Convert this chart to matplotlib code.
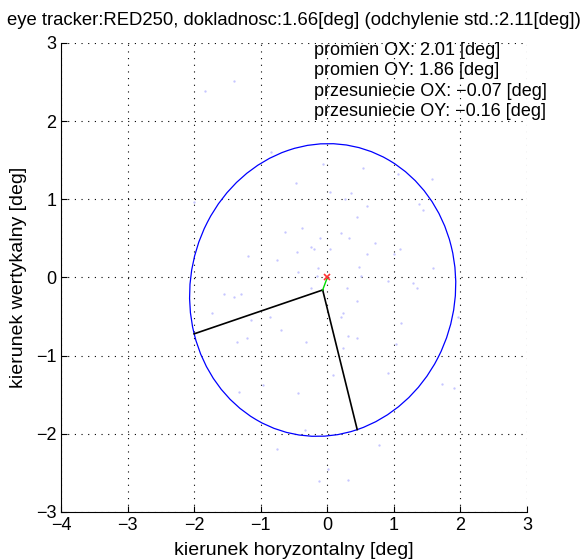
import numpy as np
import matplotlib
matplotlib.use("Agg")
import matplotlib.pyplot as plt
from matplotlib.patches import Ellipse

plt.rcParams['font.family'] = ['Liberation Sans', 'DejaVu Sans']

# dane
promien_ox = 2.01
promien_oy = 1.86
przes_ox = -0.07
przes_oy = -0.16
kat = 16.2  # obrot elipsy [deg]
dokladnosc = 1.66
odchylenie = 2.11

# punkty fiksacji (przyblizone)
gx = [-0.85, -0.06, -0.47, -2.01, -0.63, -0.38, -0.11, -0.25, -0.20, -0.45,
      -1.19, -0.75, -0.14, -0.44, -0.16, 0.54, 1.06, 1.57, 0.04, 0.35,
      0.26, 0.60, 1.38, 1.43, 0.45, 0.20, 0.33, 0.71, 0.04, 1.09,
      0.59, 1.00, 0.48, 1.58, 0.50, -1.55, -1.40, -1.29, -1.73, -1.15,
      -0.86, -0.24, -0.70, -1.21, -1.35, -0.32, -0.96, -1.33, -0.44, -0.33,
      0.29, 0.91, 1.29, 1.35, 0.44, 0.24, 0.20, 1.11, 1.96, 0.31,
      0.44, 0.24, 1.03, 0.09, 0.91, 1.72, 1.91, -1.40, -1.84, -0.76,
      0.78, 0.01, -0.13, 0.31]
gy = [1.60, 1.45, 1.21, 0.97, 0.58, 0.63, 0.50, 0.39, 0.37, 0.32,
      0.27, 0.22, 0.12, 0.07, 0.02, 1.40, 1.33, 1.26, 1.09, 1.08,
      1.01, 0.92, 0.94, 0.86, 0.77, 0.57, 0.50, 0.44, 0.37, 0.37,
      0.30, 0.30, 0.13, 0.12, 0.02, -0.21, -0.25, -0.21, -0.46, -0.55,
      -0.50, -0.13, -0.67, -0.78, -0.83, -0.82, -1.37, -1.47, -1.48, -1.95,
      -0.13, -0.04, -0.07, -0.13, -0.30, -0.46, -0.51, -0.58, -0.51, -0.75,
      -0.78, -0.90, -0.85, -1.25, -1.22, -1.36, -1.42, 2.51, 2.39, -2.20,
      -2.14, -2.45, -2.60, -2.59]

xticks = [-4, -3, -2, -1, 0, 1, 2, 3]
yticks = [-3, -2, -1, 0, 1, 2, 3]

fig = plt.figure(figsize=(5.84, 5.59), dpi=100)
ax = fig.add_axes([0.1045, 0.0841, 0.798, 0.839])

ax.plot(gx, gy, '.', color='#c4c4ff', markersize=1.3, zorder=2)

el = Ellipse((przes_ox, przes_oy), 2 * promien_ox, 2 * promien_oy, angle=kat,
             fill=False, edgecolor='#0000ff', linewidth=0.9, zorder=3)
ax.add_patch(el)

# osie elipsy
t = np.deg2rad(kat)
ax.plot([przes_ox, przes_ox - promien_ox * np.cos(t)],
        [przes_oy, przes_oy - promien_ox * np.sin(t)], color='black', lw=1.2, zorder=4)
ax.plot([przes_ox, przes_ox + promien_oy * np.sin(t)],
        [przes_oy, przes_oy - promien_oy * np.cos(t)], color='black', lw=1.2, zorder=4)

# przesuniecie
ax.plot([przes_ox, 0], [przes_oy, 0], color='#00dd00', lw=1.0, zorder=5)
ax.plot([0], [0], 'x', color='#ff3333', markersize=5, mew=1.2, zorder=6)

ax.set_xlim(-4, 3)
ax.set_ylim(-3, 3)
ax.set_xticks(xticks)
ax.set_yticks(yticks)
ax.grid(True, color='black', linestyle=(0, (1, 5)), linewidth=0.8)
ax.spines['top'].set_visible(False)
ax.spines['right'].set_visible(False)
ax.tick_params(direction='in', length=4, labelsize=13, top=False, right=False)

ax.set_xlabel('kierunek horyzontalny [deg]', fontsize=14, labelpad=6)
ax.set_ylabel('kierunek wertykalny [deg]', fontsize=14, labelpad=6)
ax.set_title('eye tracker:RED250, dokladnosc:%.2f[deg] (odchylenie std.:%.2f[deg])'
             % (dokladnosc, odchylenie), fontsize=13.3, pad=13)

opis = ('promien OX: %.2f [deg]\npromien OY: %.2f [deg]\n'
        'przesuniecie OX: %.2f [deg]\nprzesuniecie OY: %.2f [deg]'
        % (promien_ox, promien_oy, przes_ox, przes_oy)).replace('-', '\u2212')
ax.text(-0.2, 3.01, opis, fontsize=13, va='top', ha='left', linespacing=1.25)

fig.savefig('out.png', dpi=100)
